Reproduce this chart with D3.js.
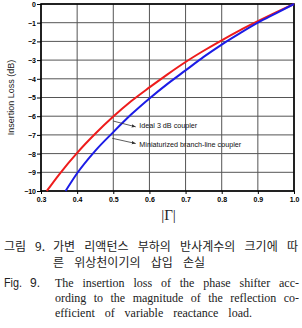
<!DOCTYPE html>
<html><head><meta charset="utf-8">
<script src="https://cdn.jsdelivr.net/npm/d3@7"></script>
<style>html,body{margin:0;padding:0;background:#fff;}svg{display:block;}</style>
</head><body>
<script>
const xTicks = [0.3, 0.4, 0.5, 0.6, 0.7, 0.8, 0.9, 1.0];
const yTicks = [0, -1, -2, -3, -4, -5, -6, -7, -8, -9, -10];
const idealG  = [0.316, 0.35, 0.4, 0.45, 0.5, 0.55, 0.6, 0.65, 0.7, 0.75, 0.8, 0.85, 0.9, 0.95, 1.0];
const idealIL = [-10, -9.12, -7.96, -6.94, -6.02, -5.19, -4.46, -3.76, -3.1, -2.5, -1.94, -1.41, -0.92, -0.45, 0];
const miniG   = [0.368, 0.4, 0.45, 0.5, 0.55, 0.6, 0.65, 0.7, 0.75, 0.8, 0.85, 0.9, 0.95, 1.0];
const miniIL  = [-10, -9.05, -7.85, -6.85, -5.9, -5.05, -4.27, -3.55, -2.83, -2.17, -1.57, -1.0, -0.5, 0];
const labels = ["Ideal 3 dB coupler", "Miniaturized branch-line coupler"];

const W = 302, H = 328;
const svg = d3.select("body").append("svg").attr("width", W).attr("height", H);
const x = d3.scaleLinear().domain([0.3, 1.0]).range([41, 294]);
const y = d3.scaleLinear().domain([-10, 0]).range([191, 4]);

// grid
const g = svg.append("g");
g.selectAll(".vg").data(xTicks).join("line")
  .attr("x1", d => x(d)).attr("x2", d => x(d)).attr("y1", y(0)).attr("y2", y(-10))
  .attr("stroke", "#555").attr("stroke-width", 1);
g.selectAll(".hg").data(yTicks).join("line")
  .attr("x1", x(0.3)).attr("x2", x(1.0)).attr("y1", d => y(d)).attr("y2", d => y(d))
  .attr("stroke", "#555").attr("stroke-width", 1);

// axes
const ax = svg.append("g").attr("transform", `translate(0,${y(-10)})`)
  .call(d3.axisBottom(x).tickValues(xTicks).tickFormat(d3.format(".1f")).tickSize(3).tickPadding(3));
const ay = svg.append("g").attr("transform", `translate(${x(0.3)},0)`)
  .call(d3.axisLeft(y).tickValues(yTicks).tickFormat(d => d3.format("d")(d)).tickSize(4).tickPadding(1));
[ax, ay].forEach(a => {
  a.select(".domain").remove();
  a.selectAll(".tick line").attr("stroke", "#000").attr("stroke-width", 1);
  a.selectAll("text").attr("font-family", "Liberation Sans, Arial, sans-serif")
    .attr("font-size", 7).attr("font-weight", "bold").attr("fill", "#000");
});
ay.selectAll("text").attr("dy", "0.35em");

// border
svg.append("rect").attr("x", x(0.3)).attr("y", y(0)).attr("width", x(1) - x(0.3)).attr("height", y(-10) - y(0))
  .attr("fill", "none").attr("stroke", "#000").attr("stroke-width", 1.6);

// curves
const line = d3.line().x(d => x(d[0])).y(d => y(d[1])).curve(d3.curveMonotoneX);
svg.append("path").datum(idealG.map((v, i) => [v, idealIL[i]])).attr("d", line)
  .attr("fill", "none").attr("stroke", "#ee1c1c").attr("stroke-width", 2);
svg.append("path").datum(miniG.map((v, i) => [v, miniIL[i]])).attr("d", line)
  .attr("fill", "none").attr("stroke", "#1c1ce6").attr("stroke-width", 2);

// annotations
svg.append("defs").append("marker").attr("id", "ah").attr("viewBox", "0 0 10 10")
  .attr("refX", 10).attr("refY", 5).attr("markerWidth", 5).attr("markerHeight", 5).attr("orient", "auto")
  .append("path").attr("d", "M0,1 L10,5 L0,9 Z").attr("fill", "#333");
const ann = [
  {x0: 0.50, y0: -6.26, x1: 0.562, y1: -6.57, tx: 0.572, ty: -6.64},
  {x0: 0.497, y0: -7.18, x1: 0.562, y1: -7.46, tx: 0.572, ty: -7.64}
];
ann.forEach((a, i) => {
  svg.append("line").attr("x1", x(a.x0)).attr("y1", y(a.y0)).attr("x2", x(a.x1)).attr("y2", y(a.y1))
    .attr("stroke", "#333").attr("stroke-width", 0.8).attr("marker-end", "url(#ah)");
  svg.append("text").attr("x", x(a.tx)).attr("y", y(a.ty)).text(labels[i])
    .attr("font-family", "Liberation Sans, Arial, sans-serif").attr("font-size", 7.2).attr("fill", "#111");
});

// axis titles
svg.append("text").attr("transform", `translate(14,${(y(0) + y(-10)) / 2}) rotate(-90)`)
  .attr("text-anchor", "middle").text("Insertion Loss (dB)")
  .attr("font-family", "Liberation Sans, Arial, sans-serif").attr("font-size", 9).attr("fill", "#222");
svg.append("text").attr("x", (x(0.3) + x(1)) / 2 + 1).attr("y", 220).attr("text-anchor", "middle")
  .text("|Γ|").attr("font-family", "Liberation Serif, Times New Roman, serif").attr("font-size", 15).attr("fill", "#222");

// caption
const kr = "Noto Sans CJK KR, sans-serif";
const sr = "Liberation Serif, Times New Roman, serif";
const sa = "Liberation Sans, Arial, sans-serif";
function t(txt, xx, yy, fam, size, len) {
  const e = svg.append("text").attr("x", xx).attr("y", yy).text(txt)
    .attr("font-family", fam).attr("font-size", size).attr("fill", "#222");
  if (len) {
    const L = e.node().getComputedTextLength();
    const n = (txt.match(/ /g) || []).length;
    if (L < len && n > 0) e.attr("word-spacing", (len - L) / n);
    else if (L > len) e.attr("textLength", len).attr("lengthAdjust", "spacingAndGlyphs");
  }
  return e;
}
t("그림 9.", 4, 251, kr, 12, 41);
t("가변 리액턴스 부하의 반사계수의 크기에 따", 53, 251, kr, 12, 245);
t("른 위상천이기의 삽입 손실", 53, 267, kr, 12, 152);
t("Fig.", 4, 286.5, sa, 12, 18);
t("9.", 30, 286.5, sa, 12);
t("The insertion loss of the phase shifter acc-", 55, 286.5, sr, 12, 244);
t("ording to the magnitude of the reflection co-", 55, 301.5, sr, 12, 244);
t("efficient of variable reactance load.", 55, 316.5, sr, 12, 197);
</script>
</body></html>
